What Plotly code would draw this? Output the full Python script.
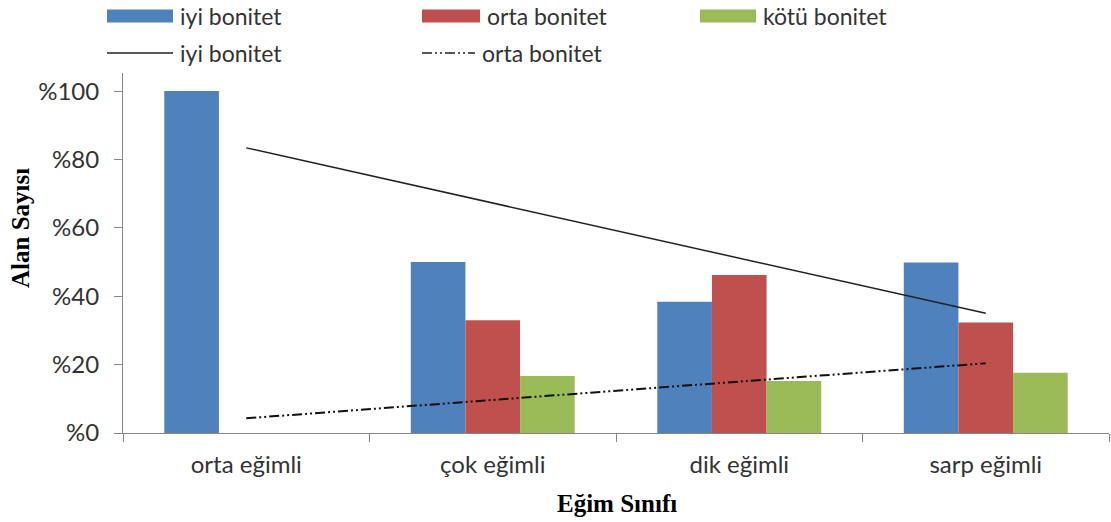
import plotly.graph_objects as go

# Slope classes and share of plots (%) per site-quality class
categories = ["orta eğimli", "çok eğimli", "dik eğimli", "sarp eğimli"]
iyi = [100, 50, 38.4, 49.9]
orta = [0, 33.0, 46.2, 32.3]
kotu = [0, 16.7, 15.2, 17.6]

# Linear trend lines (start / end values at first and last class)
trend_x = ["orta eğimli", "sarp eğimli"]
trend_iyi = [83.4, 35.0]
trend_orta = [4.3, 20.4]

y_ticks = [0, 20, 40, 60, 80, 100]
y_tick_text = ["%" + str(v) for v in y_ticks]

BLUE, RED, GREEN = "#4F81BD", "#C0504D", "#9BBB59"
FONT = "Lato"
TEXT = "#333333"
DASHDOT2 = "10px,3px,2px,3px,2px,3px"

W, H = 1111, 522
L, R, T, B = 123, 2, 73, 89
PW, PH = W - L - R, H - T - B

fig = go.Figure()
for name, vals, col in [("iyi bonitet", iyi, BLUE),
                        ("orta bonitet", orta, RED),
                        ("kötü bonitet", kotu, GREEN)]:
    fig.add_trace(go.Bar(x=categories, y=vals, name=name, marker_color=col,
                         marker_line_width=0, showlegend=False))

fig.add_trace(go.Scatter(x=trend_x, y=trend_iyi, mode="lines", showlegend=False,
                         line=dict(color="#222222", width=1.5)))
fig.add_trace(go.Scatter(x=trend_x, y=trend_orta, mode="lines", showlegend=False,
                         line=dict(color="#111111", width=2, dash=DASHDOT2)))


def px_x(px):
    return (px - L) / PW


def px_y(py):
    return (H - B - py) / PH


# Legend drawn as swatches + labels above the plot
legend_items = [
    ("bar", BLUE, 107, 173, 16, "iyi bonitet"),
    ("bar", RED, 422, 480, 16, "orta bonitet"),
    ("bar", GREEN, 700, 756, 16, "kötü bonitet"),
    ("solid", None, 107, 173, 53, "iyi bonitet"),
    ("dashdot", None, 422, 475, 53, "orta bonitet"),
]
shapes, annotations = [], []
for kind, col, x0, x1, yc, label in legend_items:
    if kind == "bar":
        shapes.append(dict(type="rect", xref="paper", yref="paper",
                           x0=px_x(x0), x1=px_x(x1), y0=px_y(yc + 6.5), y1=px_y(yc - 6.5),
                           fillcolor=col, line_width=0))
    else:
        shapes.append(dict(type="line", xref="paper", yref="paper",
                           x0=px_x(x0), x1=px_x(x1), y0=px_y(yc), y1=px_y(yc),
                           line=dict(color="#222222", width=1.5,
                                     dash="solid" if kind == "solid" else DASHDOT2)))
    annotations.append(dict(text=label, xref="paper", yref="paper",
                            x=px_x(x1 + 5), y=px_y(yc), xanchor="left", yanchor="middle",
                            showarrow=False, font=dict(family=FONT, size=23, color=TEXT)))

annotations.append(dict(text="<b>Alan Sayısı</b>", xref="paper", yref="paper",
                        x=px_x(20), y=px_y(228), textangle=-90, showarrow=False,
                        xanchor="center", yanchor="middle",
                        font=dict(family="Liberation Serif", size=25, color="#000000")))
annotations.append(dict(text="<b>Eğim Sınıfı</b>", xref="paper", yref="paper",
                        x=px_x(617), y=px_y(503), showarrow=False,
                        xanchor="center", yanchor="middle",
                        font=dict(family="Liberation Serif", size=25, color="#000000")))

fig.update_layout(
    width=W, height=H,
    margin=dict(l=L, r=R, t=T, b=B),
    plot_bgcolor="white", paper_bgcolor="white",
    barmode="group", bargap=0.335, bargroupgap=0,
    shapes=shapes, annotations=annotations,
    font=dict(family=FONT, size=24, color=TEXT),
)
fig.update_xaxes(range=[-0.5, 3.5], showgrid=False, showline=True, linecolor="#868686",
                 linewidth=1, ticks="outside", tickson="boundaries", ticklen=8,
                 tickcolor="#868686", ticklabelstandoff=10,
                 tickfont=dict(family=FONT, size=24, color=TEXT))
fig.update_yaxes(range=[0, 105.3], showgrid=False, showline=True, linecolor="#868686",
                 linewidth=1, ticks="outside", ticklen=8, tickcolor="#868686",
                 tickvals=y_ticks, ticktext=y_tick_text, zeroline=False,
                 ticklabelstandoff=10,
                 tickfont=dict(family=FONT, size=24, color=TEXT))

fig.write_html("out.html")
